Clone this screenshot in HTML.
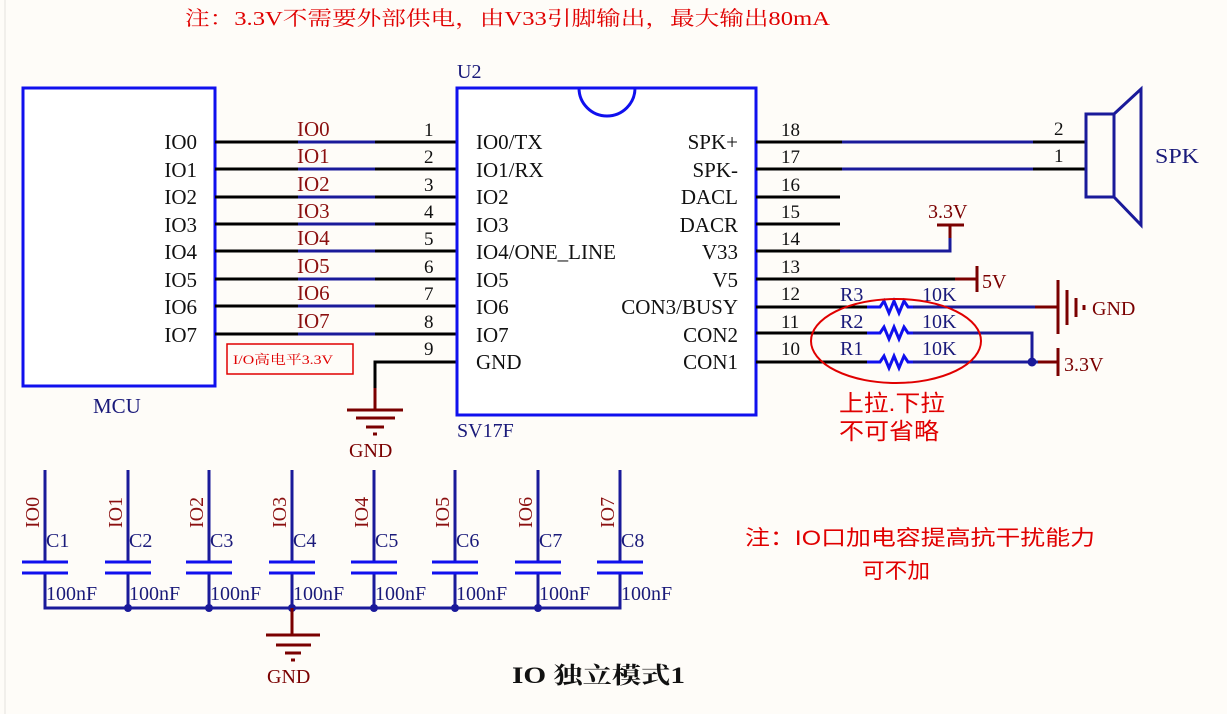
<!DOCTYPE html>
<html><head><meta charset="utf-8"><style>
html,body{margin:0;padding:0;background:#fefcf8}
svg{display:block}
.s{font-family:"Liberation Serif","Noto Serif CJK SC",serif}
.c{font-family:"Liberation Sans","Noto Sans CJK SC",sans-serif}
</style></head><body>
<svg width="1227" height="714" viewBox="0 0 1227 714" xmlns="http://www.w3.org/2000/svg">
<rect width="1227" height="714" fill="#fefcf8"/>
<line x1="5" y1="0" x2="5" y2="714" stroke="#e4e2de" stroke-width="1"/>
<text x="185" y="25" class="s" font-size="20" fill="#e00000" textLength="645" lengthAdjust="spacingAndGlyphs">注：3.3V不需要外部供电，由V33引脚输出，最大输出80mA</text>

<!-- MCU -->
<rect x="23" y="88" width="192" height="298" fill="#fff" stroke="#1010ee" stroke-width="3"/>
<text x="93" y="413" class="s" font-size="21" fill="#1a1a7a">MCU</text>
<g class="s" font-size="21" fill="#111" text-anchor="end">
<text x="197" y="149">IO0</text><text x="197" y="177">IO1</text><text x="197" y="204">IO2</text><text x="197" y="232">IO3</text>
<text x="197" y="259">IO4</text><text x="197" y="287">IO5</text><text x="197" y="314">IO6</text><text x="197" y="342">IO7</text>
</g>
<g stroke="#000" stroke-width="3">
<line x1="215" y1="142" x2="456" y2="142"/><line x1="215" y1="169" x2="456" y2="169"/>
<line x1="215" y1="197" x2="456" y2="197"/><line x1="215" y1="224" x2="456" y2="224"/>
<line x1="215" y1="251" x2="456" y2="251"/><line x1="215" y1="279" x2="456" y2="279"/>
<line x1="215" y1="306" x2="456" y2="306"/><line x1="215" y1="334" x2="456" y2="334"/>
</g>
<g stroke="#1a1a9a" stroke-width="3">
<line x1="298" y1="142" x2="375" y2="142"/><line x1="298" y1="169" x2="375" y2="169"/>
<line x1="298" y1="197" x2="375" y2="197"/><line x1="298" y1="224" x2="375" y2="224"/>
<line x1="298" y1="251" x2="375" y2="251"/><line x1="298" y1="279" x2="375" y2="279"/>
<line x1="298" y1="306" x2="375" y2="306"/><line x1="298" y1="334" x2="375" y2="334"/>
</g>
<g class="s" font-size="21" fill="#8b1010">
<text x="297" y="136">IO0</text><text x="297" y="163">IO1</text><text x="297" y="191">IO2</text><text x="297" y="218">IO3</text>
<text x="297" y="245">IO4</text><text x="297" y="273">IO5</text><text x="297" y="300">IO6</text><text x="297" y="328">IO7</text>
</g>
<g class="s" font-size="19" fill="#111">
<text x="424" y="136">1</text><text x="424" y="163">2</text><text x="424" y="191">3</text><text x="424" y="218">4</text>
<text x="424" y="245">5</text><text x="424" y="273">6</text><text x="424" y="300">7</text><text x="424" y="328">8</text><text x="424" y="355">9</text>
</g>
<rect x="227" y="344" width="126" height="30" fill="none" stroke="#e00000" stroke-width="1.5"/>
<text x="233" y="364" class="s" font-size="13" fill="#e00000" textLength="100" lengthAdjust="spacingAndGlyphs">I/O高电平3.3V</text>

<!-- GND pin 9 -->
<polyline points="456,362 375,362 375,388" fill="none" stroke="#000" stroke-width="3"/>
<line x1="375" y1="388" x2="375" y2="410" stroke="#7a0000" stroke-width="3"/>
<g stroke="#7a0000" stroke-width="3">
<line x1="347" y1="410" x2="403" y2="410"/><line x1="356" y1="418" x2="395" y2="418"/><line x1="366" y1="427" x2="384" y2="427"/><line x1="373" y1="434" x2="377" y2="434"/>
</g>
<text x="349" y="457" class="s" font-size="20" fill="#7a0000">GND</text>

<!-- U2 -->
<rect x="457" y="88" width="299" height="327" fill="#fff" stroke="#1010ee" stroke-width="3"/>
<path d="M579,88 A28,28 0 0 0 635,88" fill="none" stroke="#1010ee" stroke-width="3"/>
<text x="457" y="78" class="s" font-size="20" fill="#1a1a7a">U2</text>
<text x="457" y="437" class="s" font-size="20" fill="#1a1a7a">SV17F</text>
<g class="s" font-size="21" fill="#111">
<text x="476" y="149">IO0/TX</text><text x="476" y="177">IO1/RX</text><text x="476" y="204">IO2</text><text x="476" y="232">IO3</text>
<text x="476" y="259">IO4/ONE_LINE</text><text x="476" y="287">IO5</text><text x="476" y="314">IO6</text><text x="476" y="342">IO7</text><text x="476" y="369">GND</text>
</g>
<g class="s" font-size="21" fill="#111" text-anchor="end">
<text x="738" y="149">SPK+</text><text x="738" y="177">SPK-</text><text x="738" y="204">DACL</text><text x="738" y="232">DACR</text>
<text x="738" y="259">V33</text><text x="738" y="287">V5</text><text x="738" y="314">CON3/BUSY</text><text x="738" y="342">CON2</text><text x="738" y="369">CON1</text>
</g>
<g class="s" font-size="19" fill="#111">
<text x="781" y="136">18</text><text x="781" y="163">17</text><text x="781" y="191">16</text><text x="781" y="218">15</text>
<text x="781" y="245">14</text><text x="781" y="273">13</text><text x="781" y="300">12</text><text x="781" y="328">11</text><text x="781" y="355">10</text>
</g>
<!-- right wires -->
<g stroke="#000" stroke-width="3" fill="none">
<line x1="756" y1="142" x2="1086" y2="142"/><line x1="756" y1="169" x2="1086" y2="169"/>
<line x1="756" y1="197" x2="840" y2="197"/><line x1="756" y1="224" x2="840" y2="224"/>
<line x1="756" y1="251" x2="840" y2="251"/><line x1="756" y1="279" x2="955" y2="279"/>
<line x1="756" y1="307" x2="867" y2="307"/><line x1="756" y1="333" x2="867" y2="333"/><line x1="756" y1="362" x2="867" y2="362"/>
</g>
<g stroke="#1a1a9a" stroke-width="3" fill="none">
<line x1="842" y1="142" x2="1033" y2="142"/><line x1="842" y1="169" x2="1033" y2="169"/>
<polyline points="840,251 950,251 950,238"/>
<line x1="913" y1="307" x2="1035" y2="307"/>
<polyline points="913,333 1032,333 1032,362"/>
<line x1="913" y1="362" x2="1038" y2="362"/>
</g>
<circle cx="1032" cy="362" r="4.5" fill="#1a1a9a"/>
<g stroke="#1010ee" stroke-width="3" fill="none">
<polyline points="867,307 880,307 884,301 889,313 894,301 899,313 904,301 908,307 913,307"/>
<polyline points="867,333 880,333 884,327 889,339 894,327 899,339 904,327 908,333 913,333"/>
<polyline points="867,362 880,362 884,356 889,368 894,356 899,368 904,356 908,362 913,362"/>
</g>
<g class="s" font-size="20" fill="#1a1a7a">
<text x="840" y="301">R3</text><text x="840" y="328">R2</text><text x="840" y="355">R1</text>
<text x="922" y="301">10K</text><text x="922" y="328">10K</text><text x="922" y="355">10K</text>
</g>
<!-- power symbols -->
<g stroke="#7a0000" stroke-width="3" fill="none">
<line x1="950" y1="238" x2="950" y2="225"/><line x1="937" y1="225" x2="964" y2="225"/>
<line x1="955" y1="279" x2="977" y2="279"/><line x1="977" y1="266" x2="977" y2="292"/>
<line x1="1035" y1="307" x2="1058" y2="307"/><line x1="1058" y1="280" x2="1058" y2="334"/>
<line x1="1067" y1="290" x2="1067" y2="325"/><line x1="1076" y1="298" x2="1076" y2="317"/><line x1="1084" y1="305" x2="1084" y2="310"/>
<line x1="1038" y1="362" x2="1058" y2="362"/><line x1="1058" y1="348" x2="1058" y2="376"/>
</g>
<g class="s" font-size="20" fill="#7a0000">
<text x="928" y="218">3.3V</text><text x="982" y="288">5V</text><text x="1092" y="315">GND</text><text x="1064" y="371">3.3V</text>
</g>
<ellipse cx="896" cy="341" rx="85" ry="42" fill="none" stroke="#e00000" stroke-width="2"/>
<text x="839" y="411" class="c" font-size="23" fill="#e00000" textLength="106" lengthAdjust="spacingAndGlyphs">上拉.下拉</text>
<text x="839" y="439" class="c" font-size="23" fill="#e00000" textLength="100" lengthAdjust="spacingAndGlyphs">不可省略</text>

<!-- Speaker -->
<g stroke="#1a1a9a" stroke-width="3" fill="none">
<rect x="1086" y="114" width="28" height="83"/>
<polyline points="1114,114 1141,89 1141,225 1114,197"/>
</g>
<g class="s" font-size="19" fill="#111"><text x="1054" y="135">2</text><text x="1054" y="162">1</text></g>
<text x="1155" y="163" class="s" font-size="21" fill="#1a1a7a" textLength="44" lengthAdjust="spacingAndGlyphs">SPK</text>

<!-- Capacitors -->
<g stroke="#1a1a9a" stroke-width="3" fill="none">
<polyline points="45,572 45,608 620,608 620,572"/>
<line x1="45" y1="470" x2="45" y2="562"/><line x1="128" y1="470" x2="128" y2="562"/><line x1="209" y1="470" x2="209" y2="562"/><line x1="292" y1="470" x2="292" y2="562"/>
<line x1="374" y1="470" x2="374" y2="562"/><line x1="455" y1="470" x2="455" y2="562"/><line x1="538" y1="470" x2="538" y2="562"/><line x1="620" y1="470" x2="620" y2="562"/>
<line x1="128" y1="573" x2="128" y2="608"/><line x1="209" y1="573" x2="209" y2="608"/><line x1="292" y1="573" x2="292" y2="608"/><line x1="374" y1="573" x2="374" y2="608"/><line x1="455" y1="573" x2="455" y2="608"/><line x1="538" y1="573" x2="538" y2="608"/>
</g>
<g stroke="#1010ee" stroke-width="3">
<line x1="22" y1="562" x2="68" y2="562"/><line x1="22" y1="573" x2="68" y2="573"/>
<line x1="105" y1="562" x2="151" y2="562"/><line x1="105" y1="573" x2="151" y2="573"/>
<line x1="186" y1="562" x2="232" y2="562"/><line x1="186" y1="573" x2="232" y2="573"/>
<line x1="269" y1="562" x2="315" y2="562"/><line x1="269" y1="573" x2="315" y2="573"/>
<line x1="351" y1="562" x2="397" y2="562"/><line x1="351" y1="573" x2="397" y2="573"/>
<line x1="432" y1="562" x2="478" y2="562"/><line x1="432" y1="573" x2="478" y2="573"/>
<line x1="515" y1="562" x2="561" y2="562"/><line x1="515" y1="573" x2="561" y2="573"/>
<line x1="597" y1="562" x2="643" y2="562"/><line x1="597" y1="573" x2="643" y2="573"/>
</g>
<g fill="#1a1a9a">
<circle cx="128" cy="608" r="4"/><circle cx="209" cy="608" r="4"/><circle cx="292" cy="608" r="4"/><circle cx="374" cy="608" r="4"/><circle cx="455" cy="608" r="4"/><circle cx="538" cy="608" r="4"/>
</g>
<g class="s" font-size="20" fill="#8b1010">
<text transform="translate(39,528) rotate(-90)">IO0</text><text transform="translate(122,528) rotate(-90)">IO1</text>
<text transform="translate(203,528) rotate(-90)">IO2</text><text transform="translate(286,528) rotate(-90)">IO3</text>
<text transform="translate(368,528) rotate(-90)">IO4</text><text transform="translate(449,528) rotate(-90)">IO5</text>
<text transform="translate(532,528) rotate(-90)">IO6</text><text transform="translate(614,528) rotate(-90)">IO7</text>
</g>
<g class="s" font-size="20" fill="#1a1a7a">
<text x="46" y="547">C1</text><text x="129" y="547">C2</text><text x="210" y="547">C3</text><text x="293" y="547">C4</text>
<text x="375" y="547">C5</text><text x="456" y="547">C6</text><text x="539" y="547">C7</text><text x="621" y="547">C8</text>
<text x="46" y="600">100nF</text><text x="129" y="600">100nF</text><text x="210" y="600">100nF</text><text x="293" y="600">100nF</text>
<text x="375" y="600">100nF</text><text x="456" y="600">100nF</text><text x="539" y="600">100nF</text><text x="621" y="600">100nF</text>
</g>
<g stroke="#7a0000" stroke-width="3">
<line x1="292" y1="608" x2="292" y2="635"/>
<line x1="266" y1="635" x2="320" y2="635"/><line x1="276" y1="645" x2="311" y2="645"/><line x1="285" y1="653" x2="301" y2="653"/><line x1="291" y1="660" x2="295" y2="660"/>
</g>
<text x="267" y="683" class="s" font-size="20" fill="#7a0000">GND</text>
<text x="512" y="683" class="s" font-size="23" font-weight="bold" fill="#111" textLength="173" lengthAdjust="spacingAndGlyphs">IO 独立模式1</text>
<text x="745" y="545" class="c" font-size="21" fill="#e00000" textLength="350" lengthAdjust="spacingAndGlyphs">注：IO口加电容提高抗干扰能力</text>
<text x="862" y="578" class="c" font-size="21" fill="#e00000" textLength="68" lengthAdjust="spacingAndGlyphs">可不加</text>
</svg>
</body></html>
